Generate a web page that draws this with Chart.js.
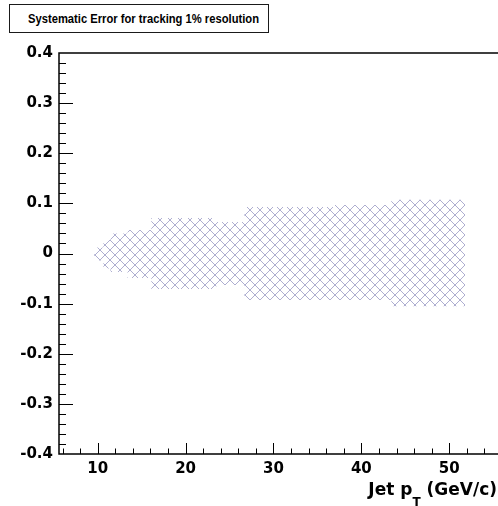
<!DOCTYPE html>
<html>
<head>
<meta charset="utf-8">
<script src="https://cdn.jsdelivr.net/npm/chart.js@4/dist/chart.umd.min.js"></script>
<style>
  html, body { margin: 0; padding: 0; background: #fff; overflow: hidden; width: 498px; height: 506px; }
  #wrap { position: relative; width: 498px; height: 506px; overflow: hidden; }
  #c { position: absolute; left: 0; top: 0; }
  .title {
    position: absolute; left: 9px; top: 4px; width: 258px; height: 27px;
    border: 1.5px solid #1a1a1a; background: #fff; color: #000;
    text-align: left; white-space: nowrap; box-sizing: content-box;
  }
  .title span {
    position: absolute; left: 18px; top: 0;
    font: bold 13.5px 'Liberation Sans', Arial, sans-serif; line-height: 27px;
    transform: scaleX(0.83); transform-origin: left center;
  }
  .xtitle {
    position: absolute; right: 1px; top: 481px; color: #000;
    font: bold 17px 'DejaVu Sans', sans-serif; line-height: 17px; white-space: nowrap;
  }
  .xtitle .sub { font-size: 12px; position: relative; top: 11px; }
</style>
</head>
<body>
<div id="wrap">
  <canvas id="c" width="510" height="506"></canvas>
  <div class="title"><span>Systematic Error for tracking 1% resolution</span></div>
  <div class="xtitle">Jet p<span class="sub">T</span> (GeV/c)</div>
</div>
<script>
// Jet pT bin edges (GeV/c) and the relative systematic error band per bin
const binEdges   = [9.6, 10.65, 11.45, 13.4, 16.1, 23.5, 26.7, 37.0, 43.4, 51.8];
const upperError = [0.012, 0.027, 0.040, 0.047, 0.071, 0.063, 0.093, 0.097, 0.107];
const lowerError = [-0.014, -0.030, -0.037, -0.049, -0.071, -0.063, -0.093, -0.093, -0.105];

// Axis tick labels
const xTickValues = [10, 20, 30, 40, 50];
const yTickValues = [-0.4, -0.3, -0.2, -0.1, 0, 0.1, 0.2, 0.3, 0.4];

// One point per bin's left edge, plus the closing right edge
function stepPoints(values) {
  const pts = values.map((v, i) => ({ x: binEdges[i], y: v }));
  pts.push({ x: binEdges[binEdges.length - 1], y: values[values.length - 1] });
  return pts;
}

// Cross-hatch fill
function crossHatch() {
  const t = document.createElement('canvas');
  t.width = 10; t.height = 10;
  const g = t.getContext('2d');
  g.strokeStyle = '#aeaed0';
  g.lineWidth = 1;
  g.beginPath();
  g.moveTo(-1, -1); g.lineTo(11, 11);
  g.moveTo(-1, 11); g.lineTo(11, -1);
  g.stroke();
  return g.createPattern(t, 'repeat');
}

// Frame and inward tick marks
const framePlugin = {
  id: 'frame',
  afterDraw(chart) {
    const { ctx, chartArea: a, scales: { x, y } } = chart;
    ctx.save();
    ctx.strokeStyle = '#000';
    ctx.lineWidth = 1.5;
    ctx.beginPath();
    ctx.moveTo(a.right + 10, a.top);
    ctx.lineTo(a.left, a.top);
    ctx.lineTo(a.left, a.bottom);
    ctx.lineTo(a.right + 10, a.bottom);
    ctx.stroke();

    ctx.lineWidth = 1;
    ctx.beginPath();
    for (let k = 3; k <= 28; k++) {
      const v = k * 2;
      const px = Math.round(x.getPixelForValue(v)) + 0.5;
      const len = (v % 10 === 0) ? 11 : 5.5;
      ctx.moveTo(px, a.bottom);
      ctx.lineTo(px, a.bottom - len);
    }
    for (let k = -19; k <= 19; k++) {
      const py = Math.round(y.getPixelForValue(k * 0.02)) + 0.5;
      const len = (k % 5 === 0) ? 14 : 7;
      ctx.moveTo(a.left, py);
      ctx.lineTo(a.left + len, py);
    }
    ctx.stroke();
    ctx.restore();
  }
};

const tickFont = { family: "'DejaVu Sans', sans-serif", size: 15, weight: 'bold' };

new Chart(document.getElementById('c'), {
  type: 'line',
  data: {
    datasets: [
      {
        data: stepPoints(upperError),
        stepped: 'before',
        fill: '+1',
        backgroundColor: crossHatch(),
        borderColor: 'rgba(0,0,0,0)',
        borderWidth: 0,
        pointRadius: 0
      },
      {
        data: stepPoints(lowerError),
        stepped: 'before',
        fill: false,
        borderColor: 'rgba(0,0,0,0)',
        borderWidth: 0,
        pointRadius: 0
      }
    ]
  },
  options: {
    responsive: false,
    animation: false,
    devicePixelRatio: 1,
    layout: { padding: { top: 53, right: 8, left: 0, bottom: 0 } },
    plugins: { legend: { display: false }, tooltip: { enabled: false }, title: { display: false } },
    scales: {
      x: {
        type: 'linear', min: 5.6, max: 56,
        grid: { display: false, drawTicks: false },
        border: { display: false },
        afterBuildTicks: s => { s.ticks = xTickValues.map(v => ({ value: v })); },
        afterFit: s => { s.height = 52; },
        ticks: { font: tickFont, color: '#000', padding: 6, maxRotation: 0, autoSkip: false,
                 callback: v => String(v) }
      },
      y: {
        type: 'linear', min: -0.4, max: 0.4,
        grid: { display: false, drawTicks: false },
        border: { display: false },
        afterBuildTicks: s => { s.ticks = yTickValues.map(v => ({ value: v })); },
        afterFit: s => { s.width = 59; },
        ticks: { font: tickFont, color: '#000', padding: 6, autoSkip: false,
                 callback: v => Math.abs(v) < 1e-9 ? '0' : v.toFixed(1) }
      }
    }
  },
  plugins: [framePlugin]
});
</script>
</body>
</html>
